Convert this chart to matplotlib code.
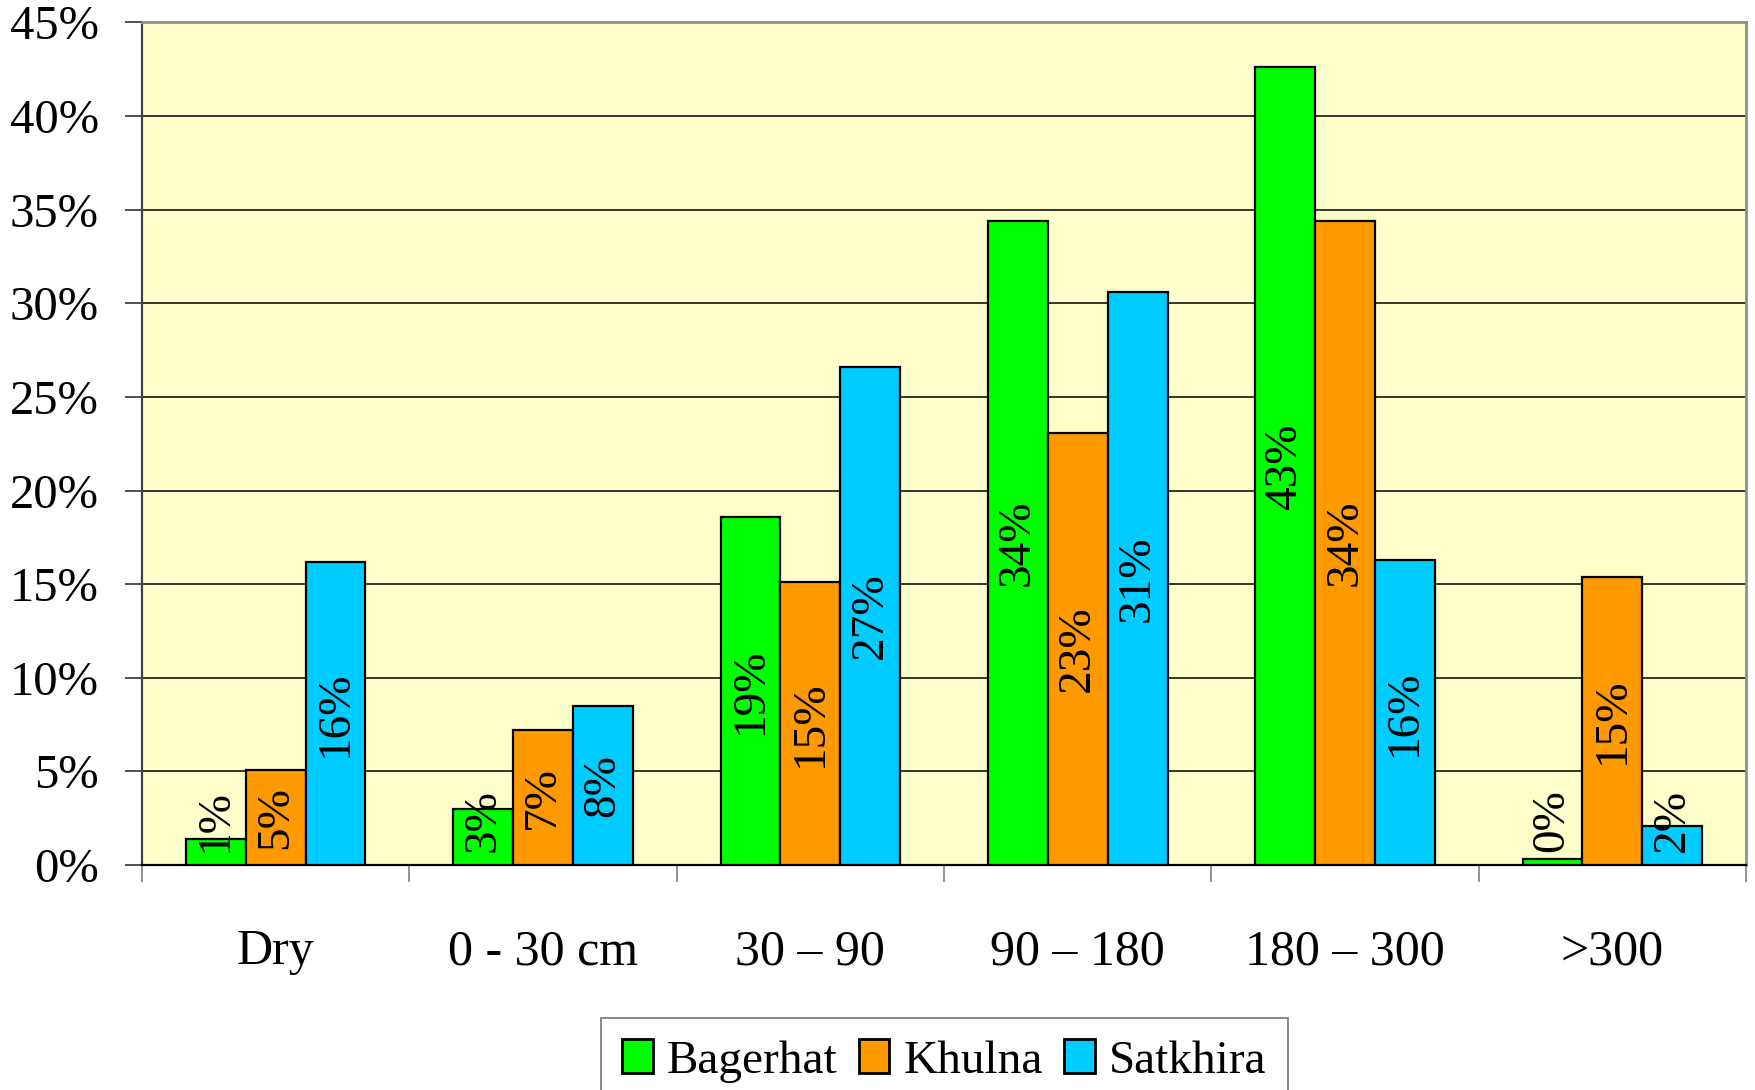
import numpy as np
import matplotlib.pyplot as plt
from matplotlib.ticker import FixedLocator

plt.rcParams['font.family'] = ['Liberation Serif', 'DejaVu Serif']

# groundwater depth classes and share of each district (%)
categories = ['Dry', '0 - 30 cm', '30 – 90', '90 – 180', '180 – 300', '>300']
bagerhat = [1.4, 3.0, 18.6, 34.4, 42.6, 0.3]
khulna = [5.1, 7.2, 15.1, 23.1, 34.4, 15.4]
satkhira = [16.2, 8.5, 26.6, 30.6, 16.3, 2.1]

series = [('Bagerhat', bagerhat, '#00FF00'),
          ('Khulna', khulna, '#FF9900'),
          ('Satkhira', satkhira, '#00CCFF')]

fig = plt.figure(figsize=(17.55, 10.9), dpi=100)
ax = fig.add_axes([0.0809, 0.2064, 0.9140, 0.7730])
ax.set_facecolor('#FFFFCC')

x = np.arange(len(categories))
w = 0.224
fs = 34

for i, (name, vals, col) in enumerate(series):
    xs = x + (i - 1) * w
    ax.bar(xs, vals, width=w, color=col, edgecolor='black', linewidth=1.6,
           label=name, zorder=3)
    for xi, v in zip(xs, vals):
        ax.text(xi, max(v / 2, 2.4), f'{v:.0f}%', rotation=90, ha='center',
                va='center', fontsize=fs, zorder=4)

ax.set_xlim(-0.5, len(categories) - 0.5)
ax.set_ylim(0, 45)
ax.set_yticks(np.arange(0, 46, 5))
ax.set_yticklabels([f'{t}%' for t in range(0, 46, 5)], fontsize=35)
ax.yaxis.grid(True, color='black', linewidth=1.1, zorder=1)
ax.set_axisbelow(True)
ax.tick_params(axis='y', length=12, width=1.2, color='#333333', pad=19)

ax.set_xticks(x)
ax.set_xticklabels(categories, fontsize=36)
ax.tick_params(axis='x', which='major', length=0, pad=46)
ax.xaxis.set_minor_locator(FixedLocator(np.arange(-0.5, len(categories), 1)))
ax.tick_params(axis='x', which='minor', length=12, width=1.2, color='#808080')

for side in ['top', 'right']:
    ax.spines[side].set_color('#909090')
    ax.spines[side].set_linewidth(2)
ax.spines['left'].set_color('#404040')
ax.spines['left'].set_linewidth(1.6)
ax.spines['bottom'].set_color('black')
ax.spines['bottom'].set_linewidth(1.6)

leg = fig.legend(loc='upper center', bbox_to_anchor=(0.538, 0.066), ncol=3,
                 fontsize=fs, frameon=True, fancybox=False, edgecolor='#555555',
                 handlelength=0.65, handleheight=0.72, handletextpad=0.3,
                 columnspacing=0.45, borderpad=0.45, borderaxespad=0)
leg.get_frame().set_linewidth(1.2)
for h in leg.legend_handles:
    h.set_linewidth(2.0)

fig.savefig('out.png', dpi=100)
